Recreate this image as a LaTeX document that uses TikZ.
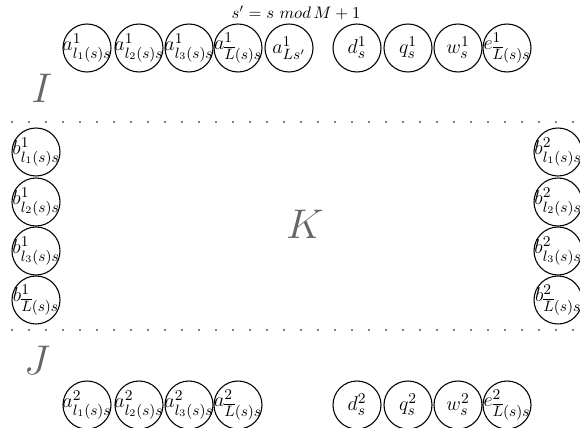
\documentclass[tikz,border=0pt]{standalone}
\usepackage{amsmath,amssymb}
\usepackage{xcolor}
\usepackage{tikz}
\usetikzlibrary{positioning}

\begin{document}
\begin{tikzpicture}[x=0.6pt, y=-0.6pt,
  ball/.style={draw, circle, minimum size=28.8pt, inner sep=0pt, line width=0.65pt,
    font=\fontsize{12.3}{15}\selectfont,
    execute at begin node={\hbox to 0pt\bgroup\hss}, execute at end node={\hss\egroup}},
  sep/.style={line width=1.1pt, dash pattern=on 0pt off 10.2pt, line cap=round},
  big/.style={text=black!60, font=\fontsize{32}{38}\selectfont},
]
\useasboundingbox (0,0) rectangle (580,428);
\node (lbl) at (296,13) {$s' = s\ mod\, M+1$};
% first row
\node[ball] (a11) at (87,48) {$a^1_{l_1(s)s}$};
\node[ball] (a12) at (139,48) {$a^1_{l_2(s)s}$};
\node[ball] (a13) at (189,48) {$a^1_{l_3(s)s}$};
\node[ball] (a1L) at (238,48) {$a^1_{\overline{L}(s)s}$};
\node[ball] (a1s) at (289,48) {$a^1_{Ls'}$};
\node[ball] (d1) at (357,48) {$d^1_s$};
\node[ball] (q1) at (408,48) {$q^1_s$};
\node[ball] (w1) at (458,48) {$w^1_s$};
\node[ball] (e1) at (507,48) {$e^1_{\overline{L}(s)s}$};
\node[big] (I) at (42,88) {$I$};
\draw[sep] (12,122) -- (580,122);
% side columns
\node[ball] (b11) at (36,152) {$b^1_{l_1(s)s}$};
\node[ball] (b12) at (36,202) {$b^1_{l_2(s)s}$};
\node[ball] (b13) at (36,251) {$b^1_{l_3(s)s}$};
\node[ball] (b1L) at (36,300) {$b^1_{\overline{L}(s)s}$};
\node[ball] (b21) at (558,152) {$b^2_{l_1(s)s}$};
\node[ball] (b22) at (558,202) {$b^2_{l_2(s)s}$};
\node[ball] (b23) at (558,251) {$b^2_{l_3(s)s}$};
\node[ball] (b2L) at (558,300) {$b^2_{\overline{L}(s)s}$};
\node[big] (K) at (305,224) {$K$};
\draw[sep] (12,330) -- (580,330);
\node[big] (J) at (37,360) {$J$};
% second row
\node[ball] (a21) at (87,405) {$a^2_{l_1(s)s}$};
\node[ball] (a22) at (139,405) {$a^2_{l_2(s)s}$};
\node[ball] (a23) at (189,405) {$a^2_{l_3(s)s}$};
\node[ball] (a2L) at (238,405) {$a^2_{\overline{L}(s)s}$};
\node[ball] (d2) at (357,405) {$d^2_s$};
\node[ball] (q2) at (408,405) {$q^2_s$};
\node[ball] (w2) at (458,405) {$w^2_s$};
\node[ball] (e2) at (507,405) {$e^2_{\overline{L}(s)s}$};
\end{tikzpicture}
\end{document}
